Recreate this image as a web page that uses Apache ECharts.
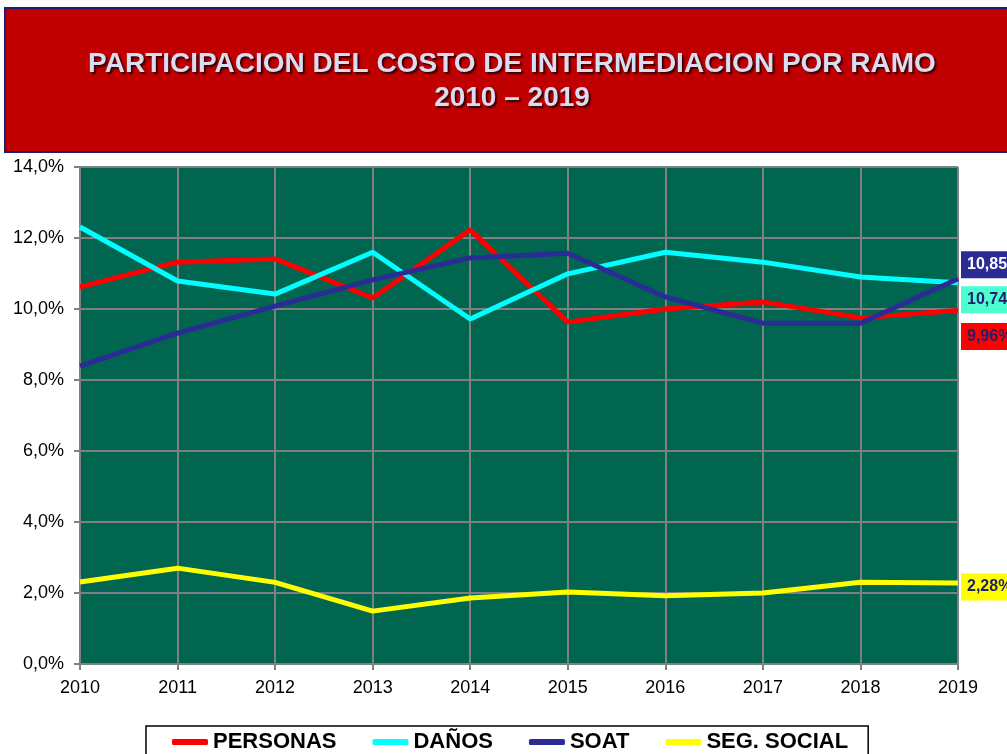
<!DOCTYPE html>
<html>
<head>
<meta charset="utf-8">
<script src="https://cdn.jsdelivr.net/npm/echarts@6/dist/echarts.min.js"></script>
<style>
  html, body { margin: 0; padding: 0; background: #fff; }
  #chart { width: 1007px; height: 754px; }
</style>
</head>
<body>
<div id="chart"></div>
<script>
var years = ['2010', '2011', '2012', '2013', '2014', '2015', '2016', '2017', '2018', '2019'];
var personas = [10.62, 11.32, 11.41, 10.31, 12.23, 9.63, 10.0, 10.2, 9.75, 9.96];
var danos = [12.31, 10.79, 10.42, 11.6, 9.72, 10.99, 11.6, 11.32, 10.9, 10.74];
var soat = [8.39, 9.32, 10.08, 10.82, 11.44, 11.57, 10.34, 9.6, 9.6, 10.85];
var segSocial = [2.31, 2.7, 2.3, 1.49, 1.86, 2.03, 1.92, 2.0, 2.3, 2.28];
var yTicks = [0, 2, 4, 6, 8, 10, 12, 14];

var chart = echarts.init(document.getElementById('chart'));

function pct(v) {
    return v.toFixed(2).replace('.', ',') + '%';
}

// etiqueta del ultimo valor, a la derecha del grafico
function endLabel(bg, fg, dy) {
    return {
        show: true,
        formatter: function (p) { return pct(p.value); },
        distance: 3,
        offset: [0, dy],
        backgroundColor: bg,
        color: fg,
        padding: [6, 6, 5, 6],
        fontFamily: 'Liberation Sans, Arial',
        fontWeight: 'bold',
        fontSize: 16
    };
}

function serie(name, data, color, label) {
    return {
        name: name,
        type: 'line',
        data: data,
        symbol: 'none',
        color: color,
        lineStyle: { width: 5, color: color },
        endLabel: label,
        animation: false
    };
}

chart.setOption({
    animation: false,
    graphic: [{
        type: 'rect',
        shape: { x: 5, y: 8, width: 1010, height: 144 },
        style: { fill: '#c00000', stroke: '#1f1f6f', lineWidth: 2 }
    }, {
        type: 'text',
        x: 512,
        y: 81,
        style: {
            text: 'PARTICIPACION DEL COSTO DE INTERMEDIACION POR RAMO\n2010 – 2019',
            fill: '#dadcf2',
            font: 'bold 28px "Liberation Sans", Arial',
            align: 'center',
            verticalAlign: 'middle',
            lineHeight: 34,
            textShadowColor: 'rgba(30,0,0,0.85)',
            textShadowBlur: 2,
            textShadowOffsetX: 2,
            textShadowOffsetY: 2
        }
    }],
    grid: {
        left: 80,
        right: 49,
        top: 167,
        bottom: 90,
        show: true,
        backgroundColor: '#00664f',
        borderWidth: 0
    },
    legend: {
        left: 146,
        top: 726,
        itemWidth: 36,
        itemHeight: 6,
        itemGap: 36,
        icon: 'roundRect',
        padding: [5, 20, 30, 26],
        borderColor: '#000',
        borderWidth: 1.5,
        backgroundColor: '#fff',
        textStyle: {
            fontFamily: 'Liberation Sans, Arial',
            fontWeight: 'bold',
            fontSize: 22,
            color: '#000'
        },
        data: ['PERSONAS', 'DAÑOS', 'SOAT', 'SEG. SOCIAL']
    },
    xAxis: {
        type: 'category',
        data: years,
        boundaryGap: false,
        axisLine: { lineStyle: { color: '#808080', width: 2 } },
        axisTick: { show: true, length: 6, lineStyle: { color: '#808080', width: 2 } },
        axisLabel: {
            margin: 15,
            fontFamily: 'Liberation Sans, Arial',
            fontSize: 18,
            color: '#000'
        },
        splitLine: { show: true, lineStyle: { color: '#808080', width: 2 } }
    },
    yAxis: {
        type: 'value',
        min: yTicks[0],
        max: yTicks[yTicks.length - 1],
        interval: 2,
        axisLine: { show: true, lineStyle: { color: '#808080', width: 2 } },
        axisTick: { show: true, length: 6, lineStyle: { color: '#808080', width: 2 } },
        axisLabel: {
            margin: 16,
            fontFamily: 'Liberation Sans, Arial',
            fontSize: 18,
            color: '#000',
            formatter: function (v) { return v.toFixed(1).replace('.', ',') + '%'; }
        },
        splitLine: { show: true, lineStyle: { color: '#808080', width: 2 } }
    },
    series: [
        serie('PERSONAS', personas, '#ff0000', endLabel('#ff0000', '#1f1f70', 26)),
        serie('DAÑOS', danos, '#00ffff', endLabel('#4dffd0', '#1f1f70', 17)),
        serie('SOAT', soat, '#2b2b96', endLabel('#2b2b96', '#ffffff', -14)),
        serie('SEG. SOCIAL', segSocial, '#ffff00', endLabel('#ffff00', '#1f1f70', 4))
    ]
});
</script>
</body>
</html>
